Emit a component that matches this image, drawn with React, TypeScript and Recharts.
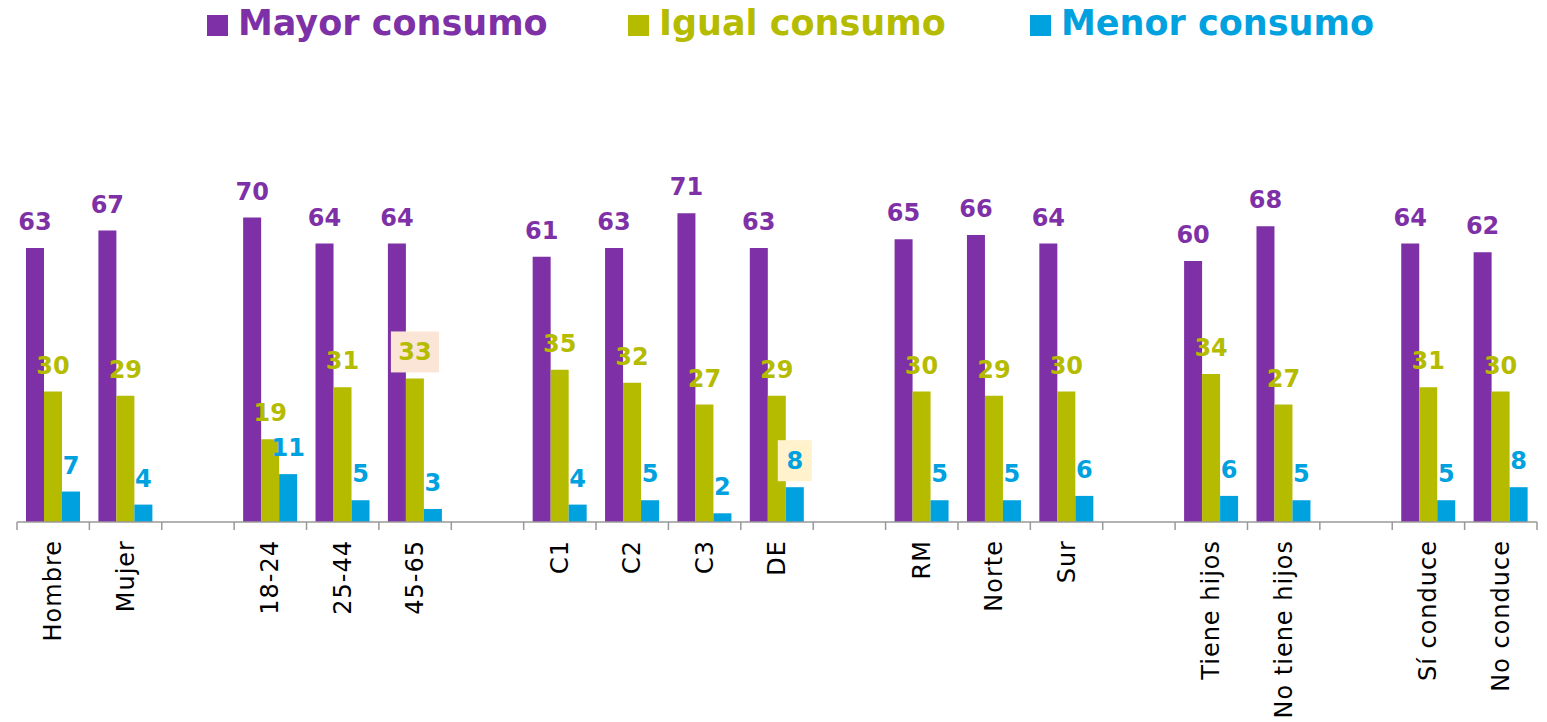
import React from 'react';
import { BarChart, Bar, XAxis, YAxis, Legend, LabelList } from 'recharts';

const categories = [
  'Hombre', 'Mujer', '',
  '18-24', '25-44', '45-65', '',
  'C1', 'C2', 'C3', 'DE', '',
  'RM', 'Norte', 'Sur', '',
  'Tiene hijos', 'No tiene hijos', '',
  'Sí conduce', 'No conduce',
];
const mayor = [63, 67, null, 70, 64, 64, null, 61, 63, 71, 63, null, 65, 66, 64, null, 60, 68, null, 64, 62];
const igual = [30, 29, null, 19, 31, 33, null, 35, 32, 27, 29, null, 30, 29, 30, null, 34, 27, null, 31, 30];
const menor = [7, 4, null, 11, 5, 3, null, 4, 5, 2, 8, null, 5, 5, 6, null, 6, 5, null, 5, 8];

const series = [
  { key: 'mayor', name: 'Mayor consumo', color: '#7E31A6', values: mayor },
  { key: 'igual', name: 'Igual consumo', color: '#B5BC00', values: igual },
  { key: 'menor', name: 'Menor consumo', color: '#00A1DF', values: menor },
];

// labels drawn on a coloured box
const highlights = [
  { key: 'igual', category: '45-65', fill: '#FBE5D6' },
  { key: 'menor', category: 'DE', fill: '#FFF2CC' },
];

const data = categories.map((c, i) => ({ name: c, mayor: mayor[i], igual: igual[i], menor: menor[i] }));

const FONT = '"DejaVu Sans", sans-serif';
const W = 1547;
const H = 722;
const LEFT = 17;
const RIGHT = 10;
const bandFallback = (W - LEFT - RIGHT) / categories.length;

const makeLabel = (key: string, color: string, values: (number | null)[]) => {
  // LabelList skips the empty slots, so map its index back to the category
  const slots = values.map((v, i) => (v == null ? -1 : i)).filter((i) => i >= 0);
  return (props: any) => {
    const vb = props.viewBox || props;
    const x = vb.x ?? props.x;
    const y = vb.y ?? props.y;
    const width = vb.width ?? props.width;
    const value = props.value;
    if (value == null || x == null) return null;
    const cx = x + width / 2;
    const base = y - 18;
    const cat = categories[slots[props.index]];
    const hl = highlights.find((h) => h.key === key && h.category === cat);
    const text = String(value);
    const bw = text.length * 14 + 20;
    return (
      <g>
        {hl && <rect x={cx - bw / 2} y={base - 29} width={bw} height={41} fill={hl.fill} />}
        <text x={cx} y={base} textAnchor="middle" fill={color} fontFamily={FONT} fontWeight="bold" fontSize={24}>
          {text}
        </text>
      </g>
    );
  };
};

const CategoryTick = (props: any) => {
  const { x, y, payload, index } = props;
  const half = payload && payload.offset ? payload.offset : bandFallback / 2;
  const axisY = y - 18;
  const last = index === categories.length - 1;
  return (
    <g>
      <line x1={x - half} x2={x - half} y1={axisY} y2={axisY + 8} stroke="#999" strokeWidth={1.5} />
      {last && <line x1={x + half} x2={x + half} y1={axisY} y2={axisY + 8} stroke="#999" strokeWidth={1.5} />}
      <text
        x={x}
        y={y}
        transform={`rotate(-90, ${x}, ${y})`}
        textAnchor="end"
        dominantBaseline="central"
        fill="#000"
        fontFamily={FONT}
        fontSize={24}
        letterSpacing={1}
      >
        {payload.value}
      </text>
    </g>
  );
};

const legendLeft = [207, 628, 1030];

const LegendContent = () => (
  <div style={{ position: 'relative', width: W, height: 50 }}>
    {series.map((s, i) => (
      <div
        key={s.key}
        style={{ position: 'absolute', left: legendLeft[i], top: 3, display: 'flex', alignItems: 'center', whiteSpace: 'nowrap' }}
      >
        <span style={{ display: 'inline-block', width: 21, height: 21, background: s.color, marginRight: 10, marginTop: 4 }} />
        <span style={{ color: s.color, fontFamily: FONT, fontWeight: 'bold', fontSize: 35, lineHeight: '40px' }}>{s.name}</span>
      </div>
    ))}
  </div>
);

export default function App() {
  return (
    <div style={{ position: 'absolute', left: 0, top: 0, width: W, height: H, background: '#fff' }}>
      <BarChart
        width={W}
        height={H}
        data={data}
        margin={{ top: 124, right: RIGHT, bottom: 0, left: LEFT }}
        barSize={18}
        barGap={0}
      >
        <Legend
          verticalAlign="top"
          align="left"
          content={<LegendContent />}
          wrapperStyle={{ top: 0, left: 0, width: W, height: 50 }}
        />
        <XAxis
          dataKey="name"
          interval={0}
          height={200}
          tickLine={false}
          tickSize={8}
          tickMargin={10}
          axisLine={{ stroke: '#999', strokeWidth: 1.5 }}
          tick={<CategoryTick />}
        />
        <YAxis hide width={0} domain={[0, 80]} />
        {series.map((s) => (
          <Bar key={s.key} dataKey={s.key} name={s.name} fill={s.color} isAnimationActive={false}>
            <LabelList dataKey={s.key} content={makeLabel(s.key, s.color, s.values)} />
          </Bar>
        ))}
      </BarChart>
    </div>
  );
}
